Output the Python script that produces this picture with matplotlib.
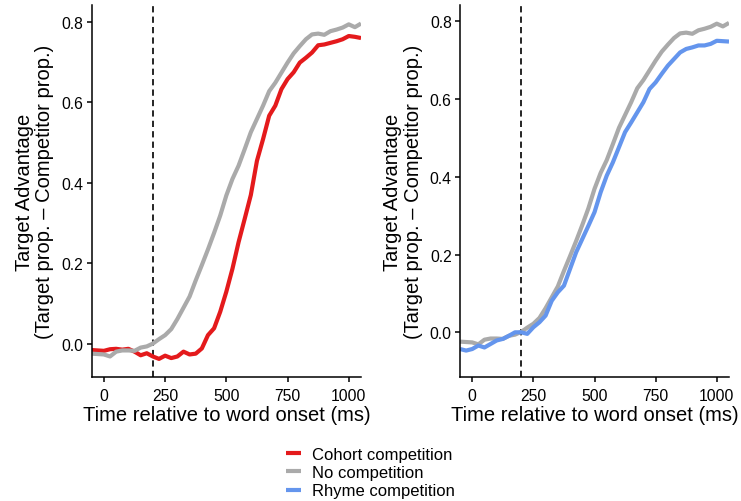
import matplotlib
matplotlib.use("Agg")
import matplotlib.pyplot as plt
import numpy as np

plt.rcParams['font.family'] = ['Liberation Sans', 'DejaVu Sans']
plt.rcParams['lines.scale_dashes'] = False

# time bins (ms relative to word onset)
time_ms = [-50, -25, 0, 25, 50, 75, 100, 125, 150, 175, 200, 225, 250, 275, 300,
           325, 350, 375, 400, 425, 450, 475, 500, 525, 550, 575, 600, 625, 650,
           675, 700, 725, 750, 775, 800, 825, 850, 875, 900, 925, 950, 975, 1000,
           1025, 1050]

no_comp = [-0.024, -0.025, -0.026, -0.031, -0.019, -0.016, -0.016, -0.017, -0.009,
           -0.006, 0.001, 0.012, 0.022, 0.037, 0.062, 0.090, 0.118, 0.158, 0.196,
           0.235, 0.276, 0.319, 0.369, 0.410, 0.443, 0.484, 0.526, 0.559, 0.592,
           0.628, 0.649, 0.674, 0.699, 0.722, 0.740, 0.757, 0.769, 0.771, 0.768,
           0.777, 0.781, 0.786, 0.794, 0.787, 0.796]

cohort = [-0.015, -0.016, -0.017, -0.013, -0.012, -0.014, -0.012, -0.019, -0.028,
          -0.023, -0.031, -0.037, -0.029, -0.035, -0.031, -0.019, -0.026, -0.024,
          -0.011, 0.022, 0.039, 0.080, 0.130, 0.187, 0.253, 0.311, 0.370, 0.455,
          0.509, 0.567, 0.592, 0.633, 0.658, 0.675, 0.699, 0.711, 0.724, 0.742,
          0.744, 0.748, 0.752, 0.757, 0.765, 0.763, 0.760]

rhyme = [-0.043, -0.047, -0.043, -0.034, -0.039, -0.030, -0.021, -0.017, -0.009,
         0.000, 0.000, -0.004, 0.013, 0.026, 0.043, 0.081, 0.103, 0.120, 0.163,
         0.206, 0.240, 0.274, 0.309, 0.360, 0.403, 0.437, 0.476, 0.515, 0.540,
         0.566, 0.592, 0.626, 0.643, 0.665, 0.686, 0.703, 0.720, 0.729, 0.733,
         0.738, 0.738, 0.742, 0.750, 0.749, 0.748]

labels = ['Cohort competition', 'No competition', 'Rhyme competition']
colors = ['#E41A1C', '#AAAAAA', '#6495ED']
onset_line = 200

fig = plt.figure(figsize=(7.41, 5.02), dpi=100)
ax1 = fig.add_axes([0.1237, 0.247, 0.3635, 0.741])
ax2 = fig.add_axes([0.6208, 0.247, 0.363, 0.741])


def style_axis(ax, ylim):
    for side in ['top', 'right']:
        ax.spines[side].set_visible(False)
    for side in ['left', 'bottom']:
        ax.spines[side].set_linewidth(1.1)
    ax.set_xlim(-50, 1050)
    ax.set_ylim(*ylim)
    ax.set_xticks([0, 250, 500, 750, 1000])
    ax.set_yticks([0.0, 0.2, 0.4, 0.6, 0.8])
    ax.set_yticklabels(['0.0', '0.2', '0.4', '0.6', '0.8'])
    ax.tick_params(length=3.5, width=1.1, labelsize=11.3, colors='black')
    ax.tick_params(axis='x', pad=4.5)
    ax.tick_params(axis='y', pad=2.5)
    ax.axvline(onset_line, color='black', lw=1.2, ls=(0, (4.5, 3.0)), zorder=1)
    ax.set_xlabel('Time relative to word onset (ms)', fontsize=14.5, labelpad=1.5)
    ax.set_ylabel('Target Advantage\n(Target prop. \u2013 Competitor prop.)',
                  fontsize=14.5, labelpad=5, linespacing=1.12)


lw = 3.0
h_cohort, = ax1.plot(time_ms, cohort, color=colors[0], lw=lw, solid_capstyle='butt')
h_none, = ax1.plot(time_ms, no_comp, color=colors[1], lw=lw, solid_capstyle='butt')
style_axis(ax1, (-0.082, 0.842))

ax2.plot(time_ms, no_comp, color=colors[1], lw=lw, solid_capstyle='butt')
h_rhyme, = ax2.plot(time_ms, rhyme, color=colors[2], lw=lw, solid_capstyle='butt')
style_axis(ax2, (-0.115, 0.842))

fig.legend([h_cohort, h_none, h_rhyme], labels, loc='lower center',
           bbox_to_anchor=(0.5, 0.0), frameon=False, fontsize=12,
           handlelength=0.9, handletextpad=0.7, labelspacing=0.2,
           borderpad=0.0, borderaxespad=0.15)

fig.savefig('out.png', dpi=100)
